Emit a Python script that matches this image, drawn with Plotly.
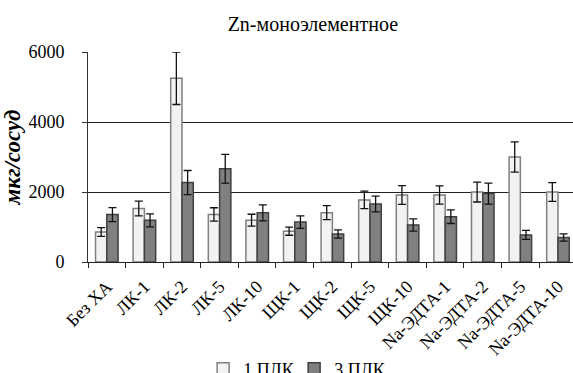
import plotly.graph_objects as go

categories = ["Без ХА", "ЛК-1", "ЛК-2", "ЛК-5", "ЛК-10", "ЩК-1", "ЩК-2", "ЩК-5",
              "ЩК-10", "Na-ЭДТА-1", "Na-ЭДТА-2", "Na-ЭДТА-5", "Na-ЭДТА-10"]
plk1 = [860, 1530, 5250, 1360, 1195, 880, 1410, 1775, 1915, 1915, 2000, 3000, 2000]
plk1_err = [125, 210, 750, 190, 170, 115, 200, 250, 270, 260, 285, 430, 270]
plk3 = [1355, 1190, 2270, 2665, 1405, 1140, 800, 1660, 1060, 1295, 1955, 775, 700]
plk3_err = [200, 185, 345, 410, 230, 180, 120, 225, 175, 195, 300, 130, 105]

SERIF = "'Liberation Serif', 'Times New Roman', Times, serif"

fig = go.Figure()
fig.add_trace(go.Bar(
    name="1 ПЛК", x=categories, y=plk1,
    marker=dict(color="#f2f2f2", line=dict(color="#7f7f7f", width=1.5)),
    error_y=dict(type="data", array=plk1_err, visible=True, color="#111", thickness=1.3, width=4),
))
fig.add_trace(go.Bar(
    name="3 ПЛК", x=categories, y=plk3,
    marker=dict(color="#808080", line=dict(color="#404040", width=1.5)),
    error_y=dict(type="data", array=plk3_err, visible=True, color="#111", thickness=1.3, width=4),
))

fig.update_layout(
    width=573, height=373,
    margin=dict(l=88, r=0, t=52, b=111, autoexpand=False),
    paper_bgcolor="white", plot_bgcolor="white",
    barmode="group", bargap=0.4, bargroupgap=0,
    font=dict(family=SERIF, size=18, color="black"),
    title=dict(text="Zn-моноэлементное", x=0.546, xanchor="center",
               y=0.935, yanchor="middle", font=dict(family=SERIF, size=20, color="black")),
    showlegend=True,
    legend=dict(orientation="h", x=0.425, xanchor="center", y=-0.51, yanchor="middle",
                font=dict(family=SERIF, size=18, color="black"),
                itemwidth=30, entrywidth=46, entrywidthmode="pixels",
                traceorder="normal", bgcolor="rgba(0,0,0,0)"),
)

fig.update_xaxes(
    type="category", range=[-0.5, 12.4],
    showline=True, linecolor="#222", linewidth=1,
    ticks="outside", ticklen=5, tickcolor="#222", tickson="boundaries",
    tickangle=-45, ticklabelstandoff=6,
    tickfont=dict(family=SERIF, size=18, color="black"),
    showgrid=False,
)
fig.update_yaxes(
    range=[0, 6000], tickvals=[0, 2000, 4000, 6000],
    showline=True, linecolor="#333", linewidth=1,
    ticks="outside", ticklen=5, tickcolor="#333",
    ticklabelstandoff=14,
    showgrid=True, gridcolor="#222", gridwidth=1, zeroline=False,
    tickfont=dict(family=SERIF, size=18, color="black"),
    title=dict(text="<b><i>мкг/сосуд</i></b>", font=dict(family=SERIF, size=23, color="black"),
               standoff=6),
)

fig.write_html("out.html", config={"displayModeBar": False},
               post_script="document.body.style.margin='0';")
